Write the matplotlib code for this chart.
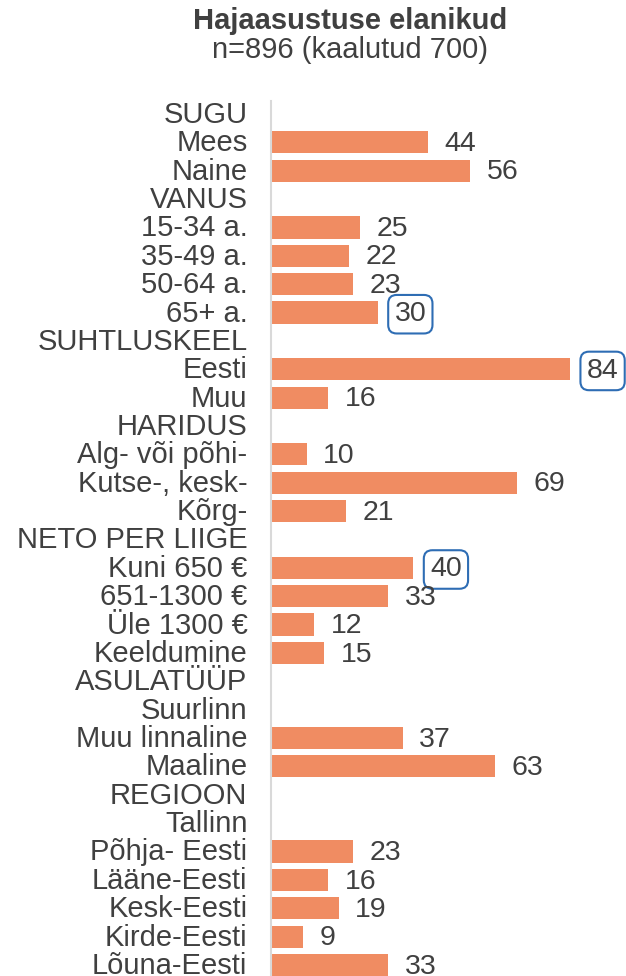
import matplotlib.pyplot as plt
from matplotlib.transforms import ScaledTranslation

labels = ["SUGU", "Mees", "Naine", "VANUS", "15-34 a.", "35-49 a.", "50-64 a.", "65+ a.",
          "SUHTLUSKEEL", "Eesti", "Muu", "HARIDUS", "Alg- või põhi-", "Kutse-, kesk-", "Kõrg-",
          "NETO PER LIIGE", "Kuni 650 €", "651-1300 €", "Üle 1300 €", "Keeldumine",
          "ASULATÜÜP", "Suurlinn", "Muu linnaline", "Maaline", "REGIOON", "Tallinn",
          "Põhja- Eesti", "Lääne-Eesti", "Kesk-Eesti", "Kirde-Eesti", "Lõuna-Eesti"]
values = [None, 44, 56, None, 25, 22, 23, 30,
          None, 84, 16, None, 10, 69, 21,
          None, 40, 33, 12, 15,
          None, None, 37, 63, None, None,
          23, 16, 19, 9, 33]
boxed = ["65+ a.", "Eesti", "Kuni 650 €"]

plt.rcParams['font.family'] = ['Liberation Sans', 'DejaVu Sans']
txt = '#404040'
fs = 20.5

W, H = 626, 976
fig = plt.figure(figsize=(W / 100, H / 100), dpi=100)
ax = fig.add_axes([271 / W, 0, 356 / W, (976 - 101) / H])

rows = list(range(len(labels)))
for i, v in zip(rows, values):
    if v is None:
        continue
    ax.barh(i, v, height=0.78, color='#F08C62', edgecolor='none')
    if labels[i] in boxed:
        ax.annotate(str(v), (v, i), xytext=(12, -1.2), textcoords='offset points',
                    va='center', ha='left', fontsize=fs, color=txt,
                    bbox=dict(boxstyle='round,pad=0.22,rounding_size=0.3', fc='white',
                              ec='#2E6DB4', lw=1.5))
    else:
        ax.annotate(str(v), (v, i), xytext=(12, -1.2), textcoords='offset points',
                    va='center', ha='left', fontsize=fs, color=txt)

ax.set_yticks(rows)
ax.set_yticklabels(labels, fontsize=21, color=txt)
ax.tick_params(axis='y', length=0, pad=17)
# nudge the category labels up a little
for lab in ax.get_yticklabels():
    lab.set_transform(lab.get_transform() + ScaledTranslation(0, 0.02, fig.dpi_scale_trans))
ax.set_xticks([])
ax.set_xlim(0, 100)
ax.set_ylim(30.39, -0.458)
for s in ['top', 'right', 'bottom']:
    ax.spines[s].set_visible(False)
ax.spines['left'].set_color('#D9D9D9')
ax.spines['left'].set_linewidth(1.5)

fig.text(350 / W, 1 - 21 / H, "Hajaasustuse elanikud", ha='center', va='center',
         fontsize=21, fontweight='bold', color=txt)
fig.text(350 / W, 1 - 50 / H, "n=896 (kaalutud 700)", ha='center', va='center',
         fontsize=21, color=txt)

fig.savefig('out.png', dpi=100)
